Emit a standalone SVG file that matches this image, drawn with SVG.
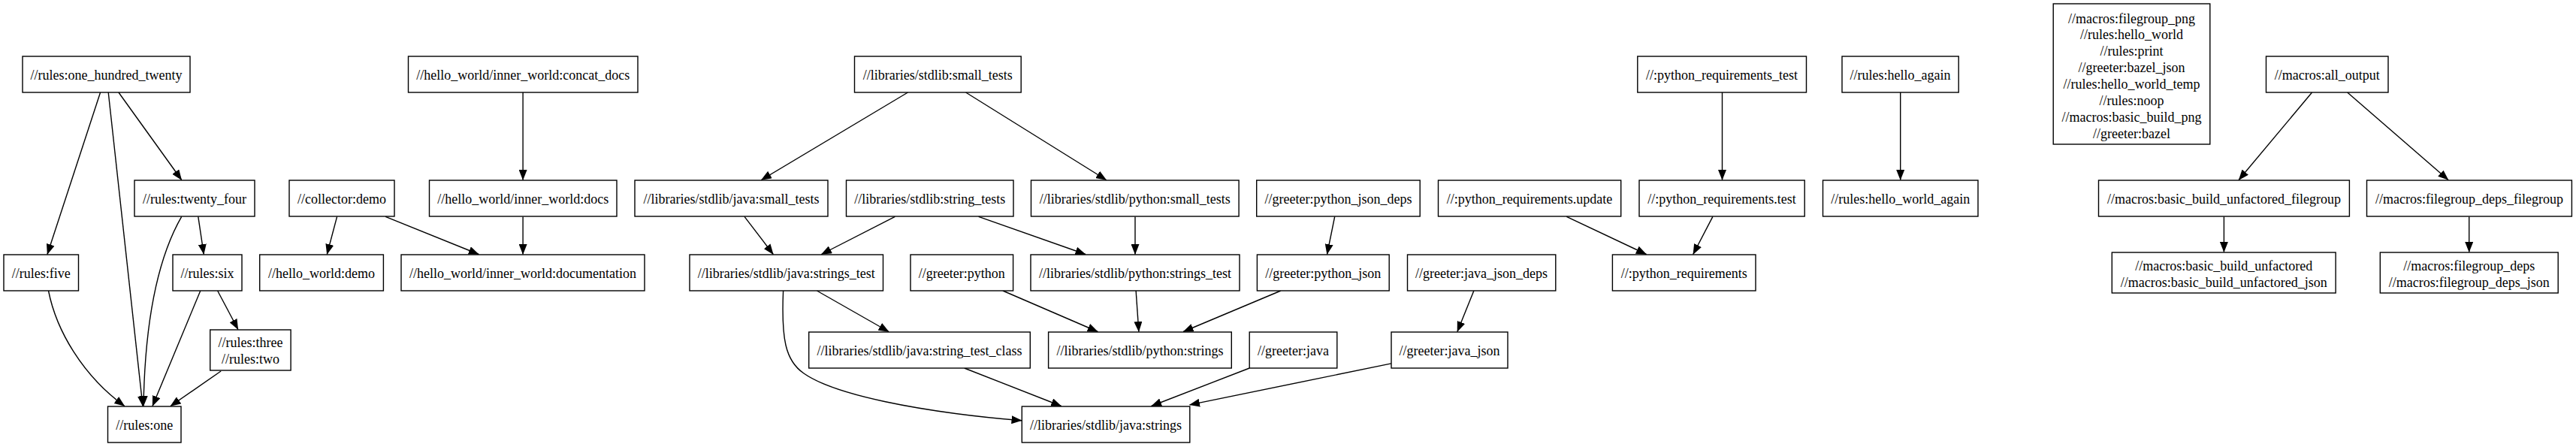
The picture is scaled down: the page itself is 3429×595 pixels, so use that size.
<svg xmlns="http://www.w3.org/2000/svg" width="3429" height="595" viewBox="0 0 3429 595">
<style>
.n rect{fill:#fff;stroke:#000;stroke-width:1.4}
.n text{font-family:"Liberation Serif","Times New Roman",serif;font-size:18px;text-anchor:middle;fill:#000}
#edges path{fill:none;stroke:#000;stroke-width:1.4;marker-end:url(#ah)}
</style>
<defs>
<marker id="ah" markerUnits="userSpaceOnUse" markerWidth="14" markerHeight="11" viewBox="0 0 14 11" refX="13.5" refY="5.5" orient="auto"><path d="M0,0 L14,5.5 L0,11 z" fill="#000"/></marker>
</defs>
<rect x="0" y="0" width="3429" height="595" fill="#fff"/>
<g id="edges">
<path d="M133.6,123 L63,338.5"/>
<path d="M144.2,123 L190,540.5"/>
<path d="M157.9,123 L241.7,239.5"/>
<path d="M241.7,288.4 C212,340 193,420 191,540.5"/>
<path d="M263.8,288.4 L271.3,338.5"/>
<path d="M64.5,387 C75,440 110,500 165.8,540.5"/>
<path d="M266.8,387 L203,540.5"/>
<path d="M289.6,387 L316.9,438.5"/>
<path d="M294.1,494 L227,540.5"/>
<path d="M696.1,123 L696.1,239.5"/>
<path d="M448.6,288.4 L435.3,338.5"/>
<path d="M513.1,288.4 L637.3,338.5"/>
<path d="M696.1,288.4 L696.1,338.5"/>
<path d="M1208.5,123 L1013.4,239.5"/>
<path d="M1285.6,123 L1472.6,239.5"/>
<path d="M991,288.4 L1029.3,338.5"/>
<path d="M1191.4,288.4 L1093.4,338.5"/>
<path d="M1302.6,288.4 L1445,338.5"/>
<path d="M1511,288.4 L1511,338.5"/>
<path d="M1087.4,387 L1183.1,441.5"/>
<path d="M1042.6,387 C1040,450 1045,480 1070,497 C1110,525 1220,548 1360,559.8"/>
<path d="M1334.9,387 L1461.3,441.5"/>
<path d="M1512.1,387 L1515.9,441.5"/>
<path d="M1704.9,387 L1575.1,441.5"/>
<path d="M1776.7,288.4 L1766.5,338.5"/>
<path d="M1283.7,490 L1412.7,540.5"/>
<path d="M1663.2,490 L1532.6,540.5"/>
<path d="M1851.9,483.9 L1583.5,538.9"/>
<path d="M1961.9,387 L1939.9,441.5"/>
<path d="M2085.3,288.4 L2191.5,338.5"/>
<path d="M2279.9,288.4 L2253.8,338.5"/>
<path d="M2292.5,123 L2292.5,239.5"/>
<path d="M2529.7,123 L2529.7,239.5"/>
<path d="M3077.6,123 L2980.1,239.5"/>
<path d="M3124.7,123 L3259,239.5"/>
<path d="M2960.4,288.4 L2960.4,335.5"/>
<path d="M3286.7,288.4 L3286.7,335.5"/>
</g>
<g id="n_one_hundred_twenty" class="n"><rect x="30" y="75" width="223" height="48"/><text x="141.5" y="106">//rules:one_hundred_twenty</text></g>
<g id="n_twenty_four" class="n"><rect x="179" y="240" width="160" height="48"/><text x="259" y="271">//rules:twenty_four</text></g>
<g id="n_collector_demo" class="n"><rect x="385" y="240" width="140" height="48"/><text x="455" y="271">//collector:demo</text></g>
<g id="n_five" class="n"><rect x="5" y="339" width="99.5" height="48"/><text x="54.7" y="370">//rules:five</text></g>
<g id="n_six" class="n"><rect x="230" y="339" width="92" height="48"/><text x="276" y="370">//rules:six</text></g>
<g id="n_hello_world_demo" class="n"><rect x="345.7" y="339" width="164.7" height="48"/><text x="428" y="370">//hello_world:demo</text></g>
<g id="n_three_two" class="n"><rect x="279.7" y="439" width="107.4" height="54"/><text x="333.4" y="462">//rules:three</text><text x="333.4" y="484">//rules:two</text></g>
<g id="n_one" class="n"><rect x="143.5" y="541" width="97.5" height="48"/><text x="192.2" y="572">//rules:one</text></g>
<g id="n_concat_docs" class="n"><rect x="543.5" y="75" width="305.5" height="48"/><text x="696.2" y="106">//hello_world/inner_world:concat_docs</text></g>
<g id="n_docs" class="n"><rect x="571.5" y="240" width="249.5" height="48"/><text x="696.2" y="271">//hello_world/inner_world:docs</text></g>
<g id="n_documentation" class="n"><rect x="534" y="339" width="324" height="48"/><text x="696" y="370">//hello_world/inner_world:documentation</text></g>
<g id="n_stdlib_small_tests" class="n"><rect x="1137.5" y="75" width="221.7" height="48"/><text x="1248.3" y="106">//libraries/stdlib:small_tests</text></g>
<g id="n_java_small_tests" class="n"><rect x="845" y="240" width="257" height="48"/><text x="973.5" y="271">//libraries/stdlib/java:small_tests</text></g>
<g id="n_string_tests" class="n"><rect x="1126.5" y="240" width="222.5" height="48"/><text x="1237.8" y="271">//libraries/stdlib:string_tests</text></g>
<g id="n_python_small_tests" class="n"><rect x="1372.5" y="240" width="276.6" height="48"/><text x="1510.8" y="271">//libraries/stdlib/python:small_tests</text></g>
<g id="n_java_strings_test" class="n"><rect x="918" y="339" width="257.5" height="48"/><text x="1046.8" y="370">//libraries/stdlib/java:strings_test</text></g>
<g id="n_greeter_python" class="n"><rect x="1212" y="339" width="136.6" height="48"/><text x="1280.3" y="370">//greeter:python</text></g>
<g id="n_python_strings_test" class="n"><rect x="1372" y="339" width="278" height="48"/><text x="1511" y="370">//libraries/stdlib/python:strings_test</text></g>
<g id="n_string_test_class" class="n"><rect x="1076.7" y="442" width="294.6" height="48"/><text x="1224" y="473">//libraries/stdlib/java:string_test_class</text></g>
<g id="n_python_strings" class="n"><rect x="1395.6" y="442" width="243.7" height="48"/><text x="1517.5" y="473">//libraries/stdlib/python:strings</text></g>
<g id="n_java_strings" class="n"><rect x="1360.3" y="541" width="223.5" height="48"/><text x="1472" y="572">//libraries/stdlib/java:strings</text></g>
<g id="n_python_json_deps" class="n"><rect x="1672.7" y="240" width="217.5" height="48"/><text x="1781.5" y="271">//greeter:python_json_deps</text></g>
<g id="n_python_json" class="n"><rect x="1673.4" y="339" width="175.8" height="48"/><text x="1761.3" y="370">//greeter:python_json</text></g>
<g id="n_greeter_java" class="n"><rect x="1663.2" y="442" width="116.6" height="48"/><text x="1721.5" y="473">//greeter:java</text></g>
<g id="n_java_json_deps" class="n"><rect x="1873.5" y="339" width="197.3" height="48"/><text x="1972.1" y="370">//greeter:java_json_deps</text></g>
<g id="n_java_json" class="n"><rect x="1852" y="442" width="155" height="48"/><text x="1929.5" y="473">//greeter:java_json</text></g>
<g id="n_req_update" class="n"><rect x="1914.5" y="240" width="243.2" height="48"/><text x="2036.1" y="271">//:python_requirements.update</text></g>
<g id="n_req_test_target" class="n"><rect x="2182" y="240" width="220.2" height="48"/><text x="2292.1" y="271">//:python_requirements.test</text></g>
<g id="n_req_test" class="n"><rect x="2179.8" y="75" width="224.7" height="48"/><text x="2292.1" y="106">//:python_requirements_test</text></g>
<g id="n_requirements" class="n"><rect x="2146.4" y="339" width="190.6" height="48"/><text x="2241.7" y="370">//:python_requirements</text></g>
<g id="n_hello_again" class="n"><rect x="2452" y="75" width="155.2" height="48"/><text x="2529.6" y="106">//rules:hello_again</text></g>
<g id="n_hello_world_again" class="n"><rect x="2426.5" y="240" width="206.5" height="48"/><text x="2529.7" y="271">//rules:hello_world_again</text></g>
<g id="n_group" class="n"><rect x="2733.2" y="5" width="208.6" height="187"/><text x="2837.5" y="30.5">//macros:filegroup_png</text><text x="2837.5" y="52.4">//rules:hello_world</text><text x="2837.5" y="74.2">//rules:print</text><text x="2837.5" y="96.1">//greeter:bazel_json</text><text x="2837.5" y="118">//rules:hello_world_temp</text><text x="2837.5" y="139.8">//rules:noop</text><text x="2837.5" y="161.7">//macros:basic_build_png</text><text x="2837.5" y="183.5">//greeter:bazel</text></g>
<g id="n_all_output" class="n"><rect x="3016.5" y="75" width="162.5" height="48"/><text x="3097.8" y="106">//macros:all_output</text></g>
<g id="n_bbu_filegroup" class="n"><rect x="2793.5" y="240" width="333.9" height="48"/><text x="2960.5" y="271">//macros:basic_build_unfactored_filegroup</text></g>
<g id="n_fd_filegroup" class="n"><rect x="3150.5" y="240" width="272.9" height="48"/><text x="3287" y="271">//macros:filegroup_deps_filegroup</text></g>
<g id="n_bbu" class="n"><rect x="2811.3" y="336" width="297.8" height="54"/><text x="2960.2" y="359.5">//macros:basic_build_unfactored</text><text x="2960.2" y="381.5">//macros:basic_build_unfactored_json</text></g>
<g id="n_fd" class="n"><rect x="3168.3" y="336" width="236.9" height="54"/><text x="3286.7" y="359.5">//macros:filegroup_deps</text><text x="3286.7" y="381.5">//macros:filegroup_deps_json</text></g>
</svg>
